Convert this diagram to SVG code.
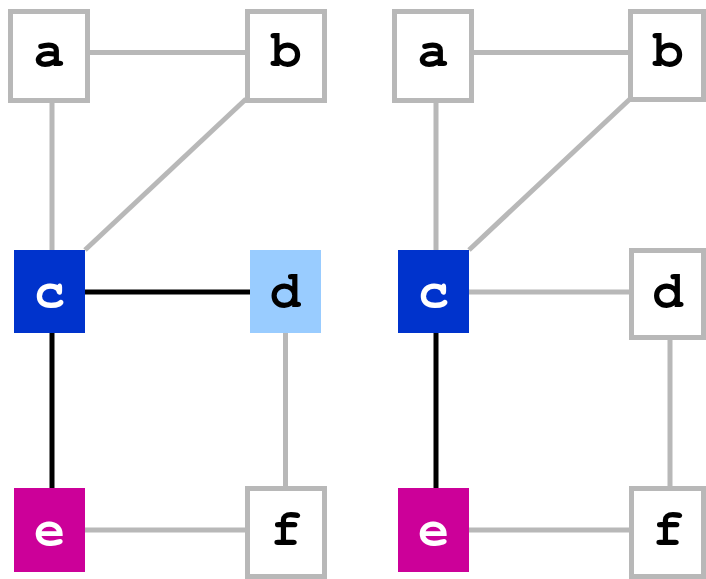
<svg xmlns="http://www.w3.org/2000/svg" width="706" height="579" viewBox="0 0 706 579">
<style>
.e{stroke:#b8b8b8;stroke-width:5;fill:none}
.k{stroke:#000;stroke-width:5;fill:none}
.bx{fill:#fff;stroke:#b8b8b8;stroke-width:5}
text{font-family:'Nimbus Mono PS','Nimbus Mono L','FreeMono','Courier','Courier New','Liberation Mono',monospace;font-weight:bold;font-size:52px;text-anchor:middle;fill:#000}
.w{fill:#fff}
</style>
<rect width="706" height="579" fill="#fff"/>
<g id="connectors">
<line class="e" x1="90" y1="52.5" x2="245" y2="52.5"/>
<line class="e" x1="52" y1="103" x2="52" y2="250"/>
<line class="e" x1="85" y1="250" x2="246" y2="99"/>
<line class="k" x1="85" y1="292" x2="250" y2="292"/>
<line class="k" x1="52" y1="333" x2="52" y2="488"/>
<line class="e" x1="285.5" y1="333" x2="285.5" y2="486"/>
<line class="e" x1="85" y1="530" x2="245" y2="530"/>
<line class="e" x1="474" y1="52.5" x2="629" y2="52.5"/>
<line class="e" x1="436" y1="103" x2="436" y2="250"/>
<line class="e" x1="469" y1="250" x2="630" y2="99"/>
<line class="e" x1="469" y1="292" x2="629" y2="292"/>
<line class="k" x1="436" y1="333" x2="436" y2="488"/>
<line class="e" x1="670" y1="340" x2="670" y2="486"/>
<line class="e" x1="469" y1="530" x2="629" y2="530"/>
</g>
<g id="L_a"><rect class="bx" x="10.5" y="11.5" width="77" height="89"/><text x="49" y="66">a</text></g>
<g id="L_b"><rect class="bx" x="247.5" y="11.5" width="77" height="89"/><text x="286" y="66">b</text></g>
<g id="L_c"><rect x="14" y="250" width="71" height="83" fill="#0033cc"/><text class="w" x="49.5" y="307">c</text></g>
<g id="L_d"><rect x="250" y="250" width="71" height="83" fill="#99ccff"/><text x="285.5" y="307">d</text></g>
<g id="L_e"><rect x="14" y="488" width="71" height="84" fill="#cc0099"/><text class="w" x="49.5" y="545">e</text></g>
<g id="L_f"><rect class="bx" x="247.5" y="488.5" width="77" height="88"/><text x="286" y="545">f</text></g>
<g id="R_a"><rect class="bx" x="394.5" y="11.5" width="77" height="89"/><text x="433" y="66">a</text></g>
<g id="R_b"><rect class="bx" x="630.5" y="11.5" width="73" height="88"/><text x="668" y="66">b</text></g>
<g id="R_c"><rect x="398" y="250" width="71" height="83" fill="#0033cc"/><text class="w" x="433.5" y="307">c</text></g>
<g id="R_d"><rect class="bx" x="631.5" y="250.5" width="72" height="87"/><text x="668" y="307">d</text></g>
<g id="R_e"><rect x="398" y="488" width="71" height="84" fill="#cc0099"/><text class="w" x="433.5" y="545">e</text></g>
<g id="R_f"><rect class="bx" x="631.5" y="488.5" width="72" height="88"/><text x="668" y="545">f</text></g>
</svg>
